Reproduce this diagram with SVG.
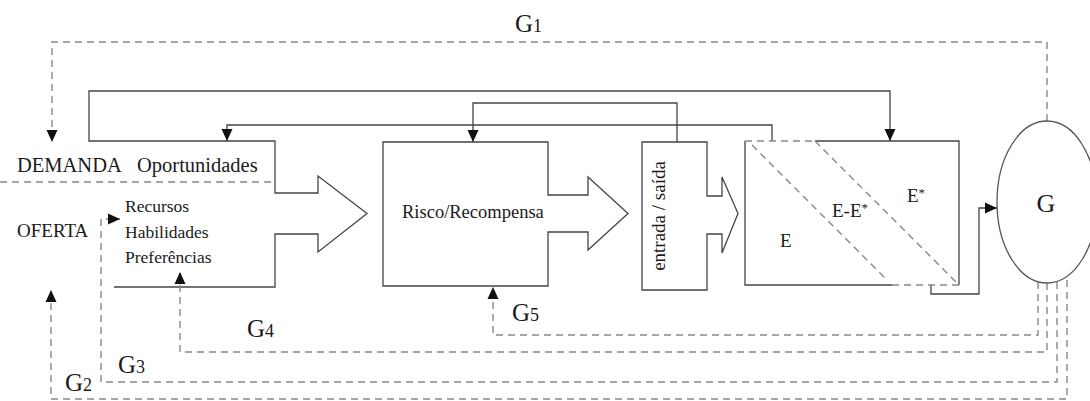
<svg xmlns="http://www.w3.org/2000/svg" width="1090" height="401" viewBox="0 0 1090 401">
<style>
text{font-family:"Liberation Serif","Times New Roman",serif;fill:#1a1a1a}
.s{fill:none;stroke:#444;stroke-width:1.3}
.d{fill:none;stroke:#888;stroke-width:1.4;stroke-dasharray:7 5}
.box{fill:#fff;stroke:#444;stroke-width:1.3}
.g{font-size:25px}
.sub{font-size:18px}
.st{font-size:13px}
</style>
<defs>
<marker id="ah" markerUnits="userSpaceOnUse" markerWidth="12" markerHeight="12" refX="12" refY="6" orient="auto">
<path d="M0,0.5 L12,6 L0,11.5 Z" fill="#111"/>
</marker>
</defs>

<g id="connectors">
<path class="s" d="M114,287 H275 V234 H318 V252 L367,213.5 L318,176 V193 H275 V141 H89 V91 H890 V141" marker-end="url(#ah)"/>
<path class="s" d="M772,141 V125 H227 V141" marker-end="url(#ah)"/>
<path class="s" d="M677,142 V103 H473 V142" marker-end="url(#ah)"/>
<path class="s" d="M931,285 V294 H979 V208 H997" marker-end="url(#ah)"/>
<path class="d" d="M0,182 H275"/>
<path class="d" d="M1047,121 V42 H52 V142" marker-end="url(#ah)"/>
<path class="d" d="M1038,282 V335 H493 V287" marker-end="url(#ah)"/>
<path class="d" d="M1047,283 V352 H180 V272" marker-end="url(#ah)"/>
<path class="d" d="M1057,282 V382 H101 V219 H120" marker-end="url(#ah)"/>
<path class="d" d="M1067,280 V399 H51 V290" marker-end="url(#ah)"/>
</g>

<g id="demanda">
<text x="17" y="172" font-size="20.5">DEMANDA</text>
<text x="137" y="172" font-size="20.5">Oportunidades</text>
</g>
<g id="oferta">
<text x="17" y="237" font-size="19">OFERTA</text>
<text x="125" y="212" font-size="17.5">Recursos</text>
<text x="125" y="238" font-size="17.5">Habilidades</text>
<text x="125" y="263" font-size="17.5">Preferências</text>
</g>

<g id="risco">
<path class="box" d="M383,142 H548 V195 H588 V177 L628,213.5 L588,250 V232 H548 V286 H383 Z"/>
<text x="402" y="218" font-size="18.5">Risco/Recompensa</text>
</g>

<g id="entrada">
<path class="box" d="M642,142 H707 V196 H722 V177 L738,213.5 L722,253 V234 H707 V290 H642 Z" stroke-width="2" stroke="#333"/>
<text transform="translate(665,216) rotate(-90)" text-anchor="middle" font-size="19">entrada / saída</text>
</g>

<g id="e-box">
<path class="s" d="M815,141 H959 V285 M745,141 V285 H892"/>
<path class="d" d="M745,141 H815 M892,285 H959 M752,145 L887,280 M815,141 L958,284"/>
<text x="780" y="247" font-size="19">E</text>
<text x="832" y="217" font-size="19">E-E<tspan class="st" dy="-5">*</tspan></text>
<text x="907" y="202" font-size="19">E<tspan class="st" dy="-5">*</tspan></text>
</g>

<g id="g-node">
<ellipse cx="1047" cy="202" rx="50" ry="81" fill="none" stroke="#555" stroke-width="1.3"/>
<text x="1046" y="212" font-size="26" text-anchor="middle">G</text>
</g>

<g id="labels">
<text x="515" y="32" class="g">G<tspan class="sub">1</tspan></text>
<text x="65" y="391" class="g">G<tspan class="sub">2</tspan></text>
<text x="118" y="373" class="g">G<tspan class="sub">3</tspan></text>
<text x="247" y="337" class="g">G<tspan class="sub">4</tspan></text>
<text x="512" y="321" class="g">G<tspan class="sub">5</tspan></text>
</g>
</svg>
